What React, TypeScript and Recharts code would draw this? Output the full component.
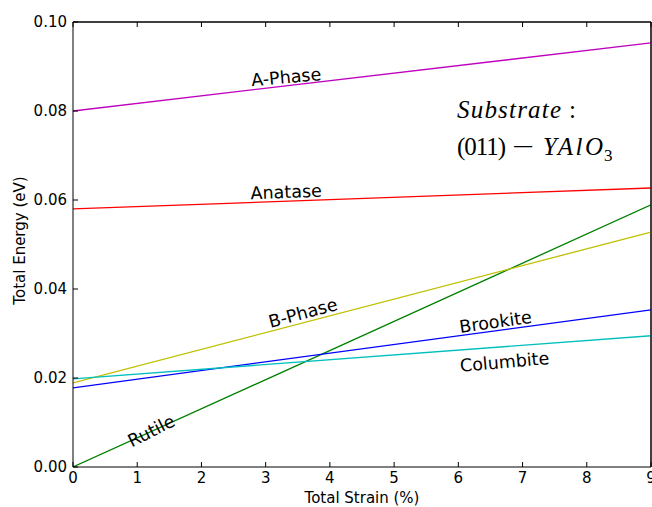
import React from 'react';
import { LineChart, Line, XAxis, YAxis, ReferenceDot, ReferenceLine, Label } from 'recharts';

const strain = [0, 9];
const aPhase = [0.08, 0.0953];
const anatase = [0.058, 0.0627];
const rutile = [0, 0.0589];
const bPhase = [0.0189, 0.0528];
const brookite = [0.0178, 0.0353];
const columbite = [0.0198, 0.0295];

const xTicks = [0, 1, 2, 3, 4, 5, 6, 7, 8, 9];
const yTicks = [0, 0.02, 0.04, 0.06, 0.08, 0.1];

const seriesNames = ['A-Phase', 'Anatase', 'Rutile', 'B-Phase', 'Brookite', 'Columbite'];
const seriesValues = [aPhase, anatase, rutile, bPhase, brookite, columbite];
const seriesColors = ['#bf00bf', '#ff0000', '#008000', '#bfbf00', '#0000ff', '#00bfbf'];

// label anchors (data coordinates) and rotation
const labelX = [3.32, 3.32, 1.22, 3.58, 6.58, 6.72];
const labelY = [0.0876, 0.0618, 0.0081, 0.0346, 0.0326, 0.0236];
const labelAngle = [-5, -2, -27, -15, -8, -5];

const data = strain.map((s, i) => {
  const row: Record<string, number> = { strain: s };
  seriesNames.forEach((n, k) => {
    row[n] = seriesValues[k][i];
  });
  return row;
});

const FONT = 'DejaVu Sans';

const makeLabel = (text: string, angle: number) => (props: any) => {
  const vb = props.viewBox || {};
  const cx = vb.x + (vb.width || 0) / 2;
  const cy = vb.y + (vb.height || 0) / 2;
  return (
    <text
      x={cx}
      y={cy}
      transform={`rotate(${angle} ${cx} ${cy})`}
      textAnchor="middle"
      dominantBaseline="central"
      fontFamily={FONT}
      fontSize={17.5}
      fill="#000"
    >
      {text}
    </text>
  );
};

const substrateLabel = (props: any) => {
  const vb = props.viewBox || {};
  const x = vb.x;
  const y = vb.y;
  return (
    <g fontFamily="Liberation Serif" fontSize={25} fill="#000">
      <text x={x} y={y} fontStyle="italic" textLength={104} lengthAdjust="spacing">
        Substrate
      </text>
      <text x={x + 112} y={y}>:</text>
      <text x={x} y={y + 37} textLength={49} lengthAdjust="spacing">
        (011)
      </text>
      <text x={x + 55} y={y + 37} textLength={22} lengthAdjust="spacingAndGlyphs">
        {'\u2212'}
      </text>
      <text x={x + 86} y={y + 37} fontStyle="italic" textLength={60} lengthAdjust="spacing">
        YAlO
      </text>
      <text x={x + 147} y={y + 43} fontSize={17}>3</text>
    </g>
  );
};

export default function App() {
  return (
    <div style={{ position: 'absolute', left: 0, top: 0, background: '#fff' }}>
      <LineChart
        width={652}
        height={507}
        data={data}
        margin={{ top: 21, right: 0, bottom: 0, left: 0 }}
      >
        <XAxis
          xAxisId="bottom"
          dataKey="strain"
          type="number"
          domain={[0, 9]}
          ticks={xTicks}
          height={40}
          stroke="#000"
          tickSize={-5}
          tickMargin={10}
          tick={{ fill: '#000', fontFamily: FONT, fontSize: 15 }}
          interval={0}
          allowDataOverflow
        >
          <Label
            value="Total Strain (%)"
            position="insideBottom"
            offset={4}
            style={{ fill: '#000', fontFamily: FONT, fontSize: 15 }}
          />
        </XAxis>
        <XAxis
          xAxisId="top"
          orientation="top"
          dataKey="strain"
          type="number"
          domain={[0, 9]}
          ticks={xTicks}
          height={1}
          stroke="#000"
          tickSize={-5}
          tickFormatter={() => ''}
          interval={0}
        />
        <YAxis
          yAxisId="left"
          type="number"
          domain={[0, 0.1]}
          ticks={yTicks}
          width={73}
          stroke="#000"
          tickSize={-5}
          tickMargin={11}
          tickFormatter={(v: number) => v.toFixed(2)}
          tick={{ fill: '#000', fontFamily: FONT, fontSize: 15 }}
          interval={0}
        >
          <Label
            value="Total Energy (eV)"
            angle={-90}
            position="center"
            dx={-17}
            dy={-4}
            style={{ fill: '#000', fontFamily: FONT, fontSize: 15, textAnchor: 'middle' }}
          />
        </YAxis>
        <YAxis
          yAxisId="right"
          orientation="right"
          type="number"
          domain={[0, 0.1]}
          ticks={yTicks}
          width={1}
          stroke="#000"
          tickSize={-5}
          tickFormatter={() => ''}
          interval={0}
        />
        <ReferenceLine xAxisId="bottom" yAxisId="left" y={0.1} stroke="#000" strokeWidth={1} />
        <ReferenceLine xAxisId="bottom" yAxisId="left" x={9} stroke="#000" strokeWidth={1} />
        {seriesNames.map((n, k) => (
          <Line
            key={n}
            xAxisId="bottom"
            yAxisId="left"
            type="linear"
            dataKey={n}
            stroke={seriesColors[k]}
            strokeWidth={1.3}
            dot={false}
            activeDot={false}
            isAnimationActive={false}
          />
        ))}
        {seriesNames.map((n, k) => (
          <ReferenceDot
            key={'lbl' + n}
            xAxisId="bottom"
            yAxisId="left"
            x={labelX[k]}
            y={labelY[k]}
            r={0}
            fill="none"
            stroke="none"
            label={makeLabel(n, labelAngle[k])}
          />
        ))}
        <ReferenceDot
          xAxisId="bottom"
          yAxisId="left"
          x={5.98}
          y={0.0784}
          r={0}
          fill="none"
          stroke="none"
          label={substrateLabel}
        />
      </LineChart>
    </div>
  );
}
